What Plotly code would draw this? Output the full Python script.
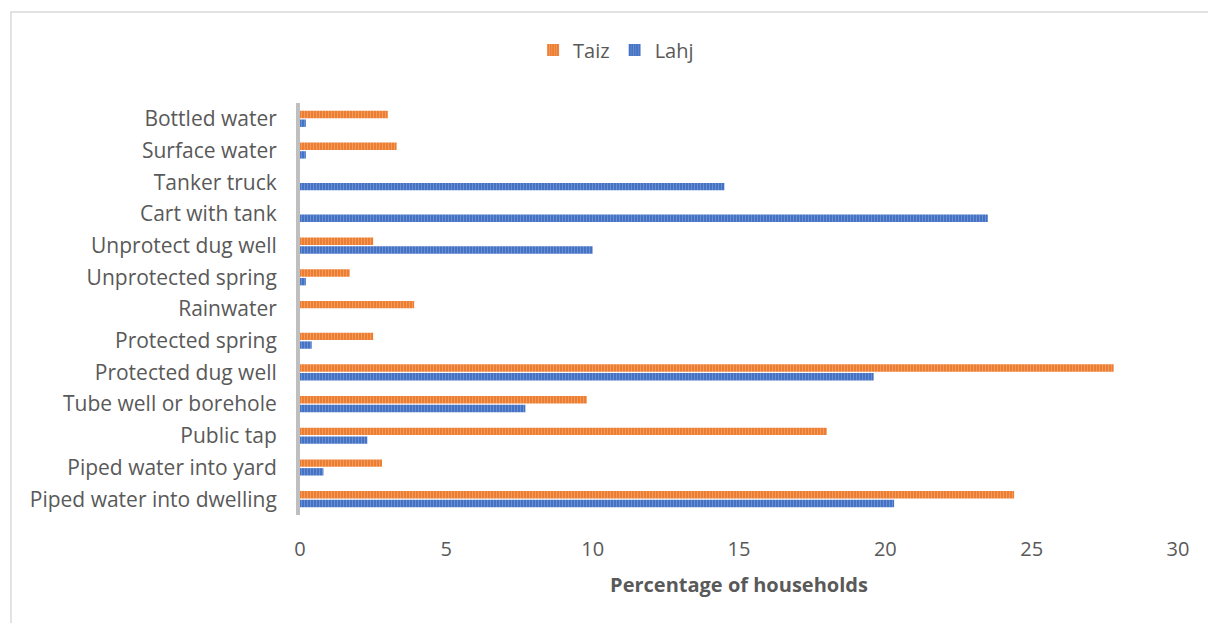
import plotly.graph_objects as go

# Water source categories, bottom to top
sources = [
    "Piped water into dwelling",
    "Piped water into yard",
    "Public tap",
    "Tube well or borehole",
    "Protected dug well",
    "Protected spring",
    "Rainwater",
    "Unprotected spring",
    "Unprotect dug well",
    "Cart with tank",
    "Tanker truck",
    "Surface water",
    "Bottled water",
]

# Percentage of households by governorate
taiz = [24.4, 2.8, 18.0, 9.8, 27.8, 2.5, 3.9, 1.7, 2.5, 0, 0, 3.3, 3.0]
lahj = [20.3, 0.8, 2.3, 7.7, 19.6, 0.4, 0, 0.2, 10.0, 23.5, 14.5, 0.2, 0.2]

x_ticks = [0, 5, 10, 15, 20, 25, 30]

FONT = "'Open Sans', Lato, sans-serif"
TEXT = "#595959"

fig = go.Figure()

# Lahj first so it sits below Taiz within each group
fig.add_trace(go.Bar(
    y=sources, x=lahj, name="Lahj", orientation="h",
    marker=dict(
        color="#4472C4",
        line=dict(width=0),
        pattern=dict(shape="|", size=3, solidity=0.35,
                     fgcolor="#8FAADC", bgcolor="#4472C4"),
    ),
    legendrank=2,
))
fig.add_trace(go.Bar(
    y=sources, x=taiz, name="Taiz", orientation="h",
    marker=dict(
        color="#ED7D31",
        line=dict(width=0),
        pattern=dict(shape="|", size=3, solidity=0.35,
                     fgcolor="#F6B98E", bgcolor="#ED7D31"),
    ),
    legendrank=1,
))

fig.update_layout(
    width=1208, height=623,
    margin=dict(l=300, r=30, t=103, b=108),
    paper_bgcolor="white", plot_bgcolor="white",
    barmode="group", bargap=0.45, bargroupgap=0.15,
    font=dict(family=FONT, size=20, color=TEXT),
    legend=dict(
        orientation="h", x=0.36, xanchor="center",
        y=1.1286, yanchor="middle",
        font=dict(family=FONT, size=20, color=TEXT),
        itemwidth=30, traceorder="normal",
    ),
    xaxis=dict(
        range=[0, 30], tickvals=x_ticks, showgrid=False, zeroline=False,
        showline=False, ticks="", ticklabelstandoff=20,
        tickfont=dict(family=FONT, size=20, color=TEXT),
        title=dict(text="<b>Percentage of households</b>", standoff=16,
                   font=dict(family=FONT, size=20, color=TEXT)),
        fixedrange=True,
    ),
    yaxis=dict(
        categoryorder="array", categoryarray=sources,
        showgrid=False, zeroline=False, showline=True,
        linecolor="#BFBFBF", linewidth=4, ticks="",
        ticklabelstandoff=15,
        tickfont=dict(family=FONT, size=21, color=TEXT),
        fixedrange=True,
    ),
    shapes=[
        dict(type="path", xref="paper", yref="paper",
             path="M -0.3292,-0.32 L -0.3292,1.2209 L 1.05,1.2209",
             line=dict(color="#D9D9D9", width=1.5), layer="below"),
    ],
)

fig.write_html("out.html", config={"displayModeBar": False})
